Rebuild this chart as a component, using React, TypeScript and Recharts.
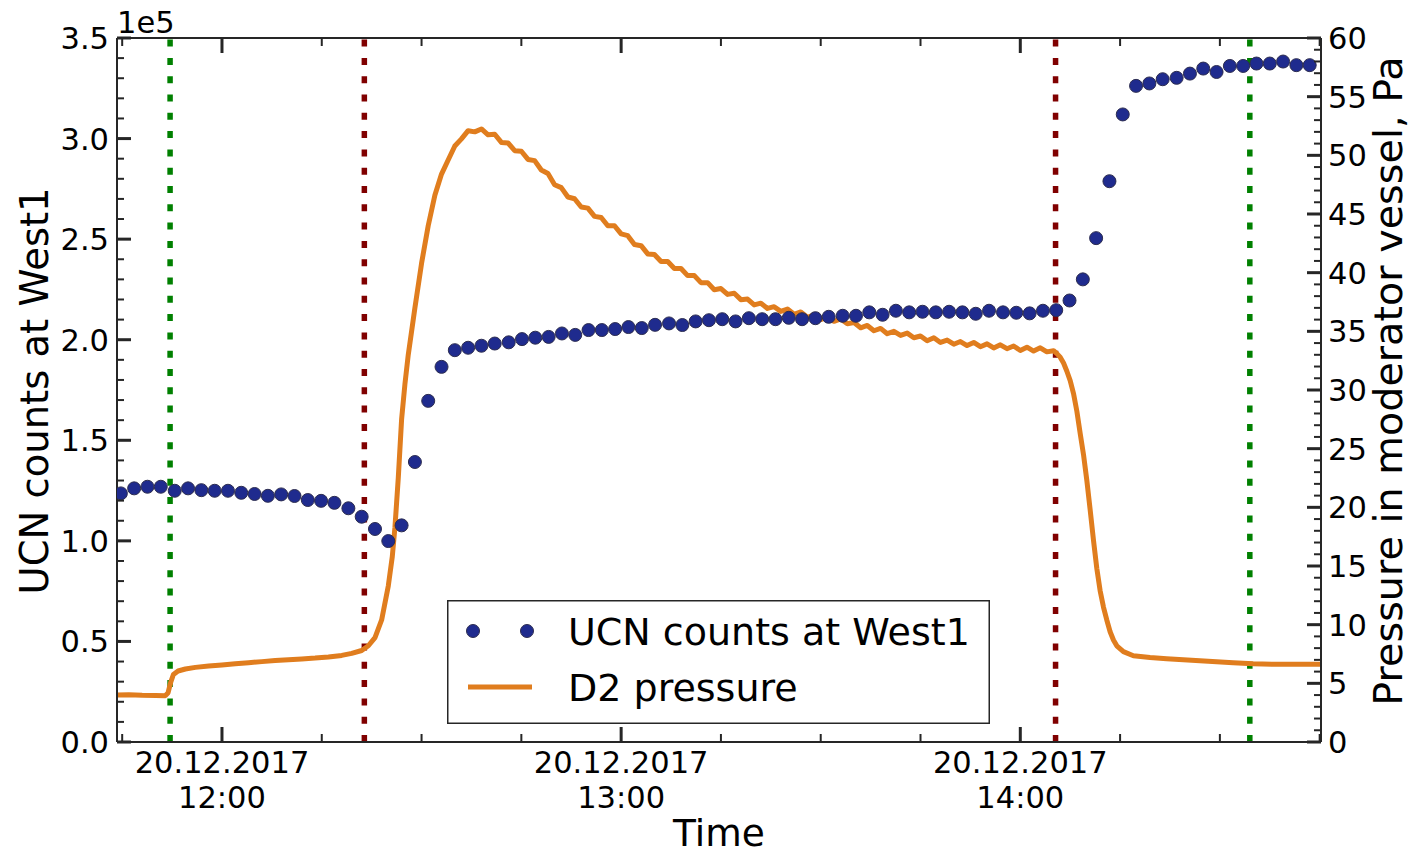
import { ComposedChart, Line, Scatter, XAxis, YAxis, ReferenceLine, Legend } from 'recharts';

// UCN detector counts, one reading every ~2 min (minutes after 12:00)
const UCN_TIME_MIN = [
  -15.2, -13.2, -11.2, -9.2, -7.1, -5.1, -3.1, -1.1, 0.9, 2.9,
  4.9, 6.9, 8.9, 10.9, 12.9, 14.9, 16.9, 19.0, 21.0, 23.0,
  25.0, 27.0, 29.0, 31.0, 33.0, 35.0, 37.0, 39.0, 41.0, 43.1,
  45.1, 47.1, 49.1, 51.1, 53.1, 55.1, 57.1, 59.1, 61.1, 63.1,
  65.1, 67.2, 69.2, 71.2, 73.2, 75.2, 77.2, 79.2, 81.2, 83.2,
  85.2, 87.2, 89.2, 91.2, 93.3, 95.3, 97.3, 99.3, 101.3, 103.3,
  105.3, 107.3, 109.3, 111.3, 113.3, 115.3, 117.4, 119.4, 121.4, 123.4,
  125.4, 127.4, 129.4, 131.4, 133.4, 135.4, 137.4, 139.4, 141.4, 143.5,
  145.5, 147.5, 149.5, 151.5, 153.5, 155.5, 157.5, 159.5, 161.5, 163.5,
];
const UCN_COUNTS = [
  123600, 126100, 126900, 126900, 124900, 126100, 125200, 124900, 124900, 123900,
  123300, 122400, 123100, 122300, 120300, 119900, 118900, 116200, 112000, 105900,
  99900, 107700, 139200, 169600, 186500, 194800, 196000, 197000, 198100, 198700,
  200300, 201000, 201400, 203100, 202400, 204800, 204800, 205300, 206300, 205800,
  207400, 208100, 207300, 209100, 209700, 210200, 209100, 210700, 210200, 210200,
  210900, 210200, 210700, 211400, 211900, 211900, 213600, 212400, 214400, 213600,
  213900, 213600, 213900, 213600, 212900, 214400, 213600, 213400, 213100, 214400,
  214700, 219500, 230000, 250500, 278800, 312000, 326200, 327400, 329500, 330200,
  332300, 334800, 333100, 336100, 336100, 337300, 337300, 338300, 336500, 336500,
];

// D2 pressure in the moderator vessel (Pa)
const PRESSURE_TIME_MIN = [
  -15.8, -14, -12, -10, -8.5, -8.1, -7.7, -7.3, -6.6, -5.5,
  -4, -2, 0, 2, 4, 6, 8, 10, 12, 14,
  16, 18, 19.5, 21, 22, 23, 24, 25, 25.6, 26,
  26.5, 27, 27.5, 28, 29, 30, 31, 32, 33, 34,
  35, 36, 37, 38, 39, 40, 41, 42, 43, 44,
  45, 46, 47, 48, 49, 50, 51, 52, 53, 54,
  55, 56, 57, 58, 59, 60, 61, 62, 63, 64,
  65, 66, 67, 68, 69, 70, 71, 72, 73, 74,
  75, 76, 77, 78, 79, 80, 81, 82, 83, 84,
  85, 86, 87, 88, 89, 90, 91, 92, 93, 94,
  95, 96, 97, 98, 99, 100, 101, 102, 103, 104,
  105, 106, 107, 108, 109, 110, 111, 112, 113, 114,
  115, 116, 117, 118, 119, 120, 121, 122, 123, 124,
  125, 125.5, 126, 126.5, 127, 127.5, 128, 128.5, 129, 129.5,
  130, 130.5, 131, 131.5, 132, 132.5, 133, 133.5, 134, 134.5,
  135.5, 137, 139.5, 142, 147, 152, 155, 158, 162, 165.2,
];
const PRESSURE_PA = [
  4.0, 4.02, 3.98, 3.97, 3.95, 4.2, 5.1, 5.75, 6.05, 6.22,
  6.36, 6.47, 6.57, 6.67, 6.76, 6.85, 6.95, 7.02, 7.08, 7.15,
  7.25, 7.38, 7.55, 7.8, 8.2, 8.9, 10.4, 13.3, 15.8, 18.3,
  22.5, 27.5, 30.5, 33.0, 37.0, 40.8, 44.0, 46.6, 48.4, 49.6,
  50.8, 51.4, 52.1, 52.0, 52.25, 51.75, 51.8, 51.1, 51.05, 50.4,
  50.35, 49.65, 49.55, 48.75, 48.45, 47.5, 47.25, 46.45, 46.3, 45.6,
  45.5, 44.8, 44.7, 44.0, 44.0, 43.3, 43.15, 42.4, 42.3, 41.6,
  41.55, 40.95, 40.95, 40.35, 40.35, 39.75, 39.75, 39.15, 39.15, 38.55,
  38.65, 38.15, 38.25, 37.7, 37.75, 37.25, 37.4, 36.95, 37.1, 36.7,
  36.9, 36.45, 36.65, 36.2, 36.4, 36.0, 36.2, 35.85, 36.05, 35.65,
  35.75, 35.3, 35.5, 35.05, 35.25, 34.8, 35.0, 34.65, 34.85, 34.45,
  34.6, 34.2, 34.45, 34.05, 34.25, 33.9, 34.13, 33.79, 34.05, 33.69,
  33.93, 33.58, 33.85, 33.52, 33.75, 33.37, 33.65, 33.32, 33.6, 33.25,
  33.35, 33.1, 32.8, 32.3, 31.6, 30.8, 29.7, 28.2, 26.3, 24.5,
  22.3, 19.8, 17.2, 14.8, 12.9, 11.5, 10.4, 9.4, 8.69, 8.2,
  7.7, 7.35, 7.2, 7.1, 6.93, 6.76, 6.66, 6.63, 6.62, 6.62,
];

// vertical markers (minutes after 12:00)
const GREEN_MARKS = [-7.8, 154.5];
const RED_MARKS = [21.4, 125.3];

const X_TICKS = [-15, 0, 15, 30, 45, 60, 75, 90, 105, 120, 135, 150, 165];
const LEFT_TICKS = Array.from({ length: 36 }, (_, i) => i * 10000);
const RIGHT_TICKS = Array.from({ length: 61 }, (_, i) => i);

const ucnData = UCN_TIME_MIN.map((t, i) => ({ t, c: UCN_COUNTS[i] }));
const pressureData = PRESSURE_TIME_MIN.map((t, i) => ({ t, p: PRESSURE_PA[i] }));

const FONT = '"DejaVu Sans", sans-serif';
const TICK_FONT = 30.5;
const INK = '#262626';
const ORANGE = '#e07d1e';
const NAVY = '#1f2b8e';
const NAVY_EDGE = '#2d2d50';

function LeftTick({ x, y, payload }: any) {
  const v = payload.value;
  const major = Math.round(v / 10000) % 5 === 0;
  return (
    <g>
      <line x1={x} x2={x + (major ? 14 : 7)} y1={y} y2={y} stroke={INK} strokeWidth={major ? 3 : 2} />
      {major && (
        <text x={x - 8} y={y} dy="0.36em" textAnchor="end" fontSize={TICK_FONT} fontFamily={FONT} fill="#000">
          {(v / 1e5).toFixed(1)}
        </text>
      )}
    </g>
  );
}

function RightTick({ x, y, payload }: any) {
  const v = payload.value;
  const major = v % 5 === 0;
  return (
    <g>
      <line x1={x - (major ? 14 : 7)} x2={x} y1={y} y2={y} stroke={INK} strokeWidth={major ? 3 : 2} />
      {major && (
        <text x={x + 7} y={y} dy="0.36em" textAnchor="start" fontSize={TICK_FONT} fontFamily={FONT} fill="#000">
          {v}
        </text>
      )}
    </g>
  );
}

function BottomTick({ x, y, payload }: any) {
  const v = payload.value;
  const major = v % 60 === 0;
  const hour = 12 + v / 60;
  return (
    <g>
      <line x1={x} x2={x} y1={y} y2={y - (major ? 15 : 8)} stroke={INK} strokeWidth={major ? 3 : 2} />
      {major && (
        <text textAnchor="middle" fontSize={TICK_FONT} fontFamily={FONT} fill="#000">
          <tspan x={x} y={y + 31}>20.12.2017</tspan>
          <tspan x={x} y={y + 66}>{`${hour}:00`}</tspan>
        </text>
      )}
    </g>
  );
}

function TopTick({ x, y, payload }: any) {
  const major = payload.value % 60 === 0;
  return <line x1={x} x2={x} y1={y} y2={y + (major ? 15 : 8)} stroke={INK} strokeWidth={major ? 3 : 2} />;
}

function LegendBox() {
  return (
    <svg width={543} height={124} style={{ display: 'block' }}>
      <rect x={0.75} y={0.75} width={541.5} height={122.5} fill="#fff" stroke={INK} strokeWidth={1.5} />
      <circle cx={26} cy={31} r={6.5} fill={NAVY} stroke={NAVY_EDGE} strokeWidth={1} />
      <circle cx={80} cy={31} r={6.5} fill={NAVY} stroke={NAVY_EDGE} strokeWidth={1} />
      <text x={121} y={31} dy="0.36em" fontSize={38} fontFamily={FONT} fill="#000">UCN counts at West1</text>
      <line x1={21} x2={85} y1={87} y2={87} stroke={ORANGE} strokeWidth={5} />
      <text x={121} y={87} dy="0.36em" fontSize={38} fontFamily={FONT} fill="#000">D2 pressure</text>
    </svg>
  );
}

export default function App() {
  return (
    <div style={{ position: 'absolute', left: 0, top: 0, width: 1410, height: 855, background: '#fff' }}>
      <ComposedChart width={1410} height={855} margin={{ top: 0, right: 0, bottom: 0, left: 0 }}>
        <XAxis
          dataKey="t" type="number" domain={[-15.78, 165.2]} allowDataOverflow
          ticks={X_TICKS} interval={0} height={113} tickSize={0} tickMargin={0}
          tick={<BottomTick />} axisLine={{ stroke: INK, strokeWidth: 2 }}
        />
        <XAxis
          xAxisId="top" orientation="top" dataKey="t" type="number" domain={[-15.78, 165.2]} allowDataOverflow
          ticks={X_TICKS} interval={0} height={38} tickSize={0} tickMargin={0}
          tick={<TopTick />} axisLine={{ stroke: INK, strokeWidth: 2 }}
        />
        <YAxis
          yAxisId="left" type="number" domain={[0, 350000]} allowDataOverflow
          ticks={LEFT_TICKS} interval={0} width={117} tickSize={0} tickMargin={0}
          tick={<LeftTick />} axisLine={{ stroke: INK, strokeWidth: 2 }}
        />
        <YAxis
          yAxisId="right" orientation="right" type="number" domain={[0, 60]} allowDataOverflow
          ticks={RIGHT_TICKS} interval={0} width={89} tickSize={0} tickMargin={0}
          tick={<RightTick />} axisLine={{ stroke: INK, strokeWidth: 2 }}
        />

        {GREEN_MARKS.map((t) => (
          <ReferenceLine key={`g${t}`} x={t} yAxisId="left" stroke="#008000" strokeWidth={5.5} strokeDasharray="7 11.3" />
        ))}
        {RED_MARKS.map((t) => (
          <ReferenceLine key={`r${t}`} x={t} yAxisId="left" stroke="#800000" strokeWidth={5.5} strokeDasharray="7 11.3" />
        ))}

        <Line
          data={pressureData} dataKey="p" yAxisId="right" type="linear" stroke={ORANGE} strokeWidth={5}
          strokeLinejoin="round" dot={false} activeDot={false} isAnimationActive={false} name="D2 pressure"
        />
        <Scatter
          data={ucnData} dataKey="c" yAxisId="left" isAnimationActive={false} name="UCN counts at West1"
          shape={(p: any) => <circle cx={p.cx} cy={p.cy} r={6.5} fill={NAVY} stroke={NAVY_EDGE} strokeWidth={1} />}
        />

        <Legend
          content={<LegendBox />} layout="vertical" verticalAlign="middle" align="center"
          wrapperStyle={{ position: 'absolute', left: 447, top: 600, width: 543, height: 124 }}
        />

        <text x={117} y={33} fontSize={TICK_FONT} fontFamily={FONT} fill="#000">1e5</text>
        <text transform="translate(48 391) rotate(-90)" textAnchor="middle" fontSize={38.5} fontFamily={FONT} fill="#000">
          UCN counts at West1
        </text>
        <text transform="translate(1402 381) rotate(-90)" textAnchor="middle" fontSize={39.7} fontFamily={FONT} fill="#000">
          Pressure in moderator vessel, Pa
        </text>
        <text x={719} y={846} textAnchor="middle" fontSize={37.5} fontFamily={FONT} fill="#000">Time</text>
      </ComposedChart>
    </div>
  );
}
